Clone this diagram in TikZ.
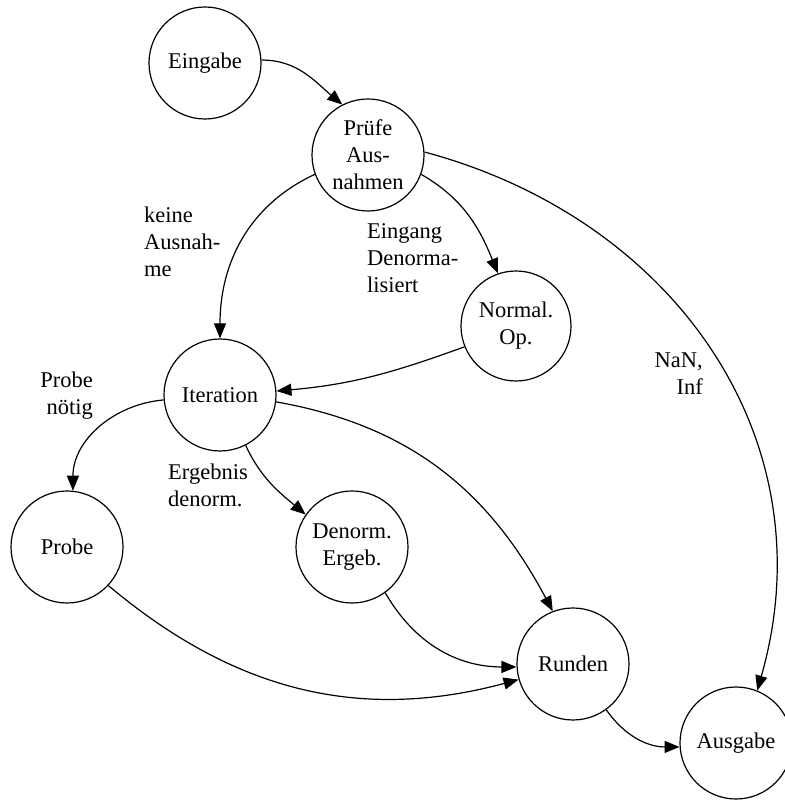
\documentclass[tikz,border=0pt]{standalone}
\usepackage{fontspec}
\setmainfont{Liberation Serif}
\usetikzlibrary{arrows.meta}
\begin{document}
\begin{tikzpicture}[x=1pt,y=1pt,
  st/.style={draw, circle, line width=1.2pt, minimum size=112pt, inner sep=0pt, align=center, font=\fontsize{22.5}{27}\selectfont},
  lbl/.style={inner sep=0pt, font=\fontsize{22.5}{27}\selectfont},
  edge/.style={line width=1.2pt, -{Triangle[length=15pt,width=12pt]}}]
\useasboundingbox (0,0) rectangle (784,800);
\node[st] (ein) at (205,737) {Eingabe};
\node[st] (pruef) at (368,645) {Prüfe\\Aus-\\nahmen};
\node[st, minimum size=110pt] (norm) at (516,474) {Normal.\\Op.};
\node[st] (iter) at (220,405) {Iteration};
\node[st] (probe) at (67,253) {Probe};
\node[st] (denorm) at (352,253) {Denorm.\\Ergeb.};
\node[st] (runden) at (573,136) {Runden};
\node[st] (aus) at (736,57) {Ausgabe};

\node[lbl, anchor=west, align=left] (l1) at (144,558) {keine\\Ausnah-\\me};
\node[lbl, anchor=west, align=left] (l2) at (367,542) {Eingang\\Denorma-\\lisiert};
\node[lbl, anchor=east, align=right] (l3) at (703,426) {NaN,\\Inf};
\node[lbl, anchor=east, align=right] (l4) at (93,404) {Probe\\nötig};
\node[lbl, anchor=west, align=left] (l5) at (168,315) {Ergebnis\\denorm.};

\draw[edge] (ein.3) to[out=0,in=140] (pruef.117);
\draw[edge] (pruef.200) to[out=205,in=90] (iter.90);
\draw[edge] (pruef.340) to[out=330,in=112] (norm.109);
\draw[edge] (pruef.3) to[out=-15,in=74,looseness=1.05] (aus.68);
\draw[edge] (norm.202) to[out=200,in=5] (iter.4);
\draw[edge] (iter.185) to[out=185,in=90] (probe.84);
\draw[edge] (iter.-63) to[out=-65,in=140] (denorm.145);
\draw[edge] (iter.-7) to[out=-10,in=118] (runden.111);
\draw[edge] (denorm.-54) to[out=-60,in=180] (runden.183);
\draw[edge] (probe.-43) to[out=-40,in=195] (runden.196);
\draw[edge] (runden.-54) to[out=-55,in=180] (aus.184);
\end{tikzpicture}
\end{document}
